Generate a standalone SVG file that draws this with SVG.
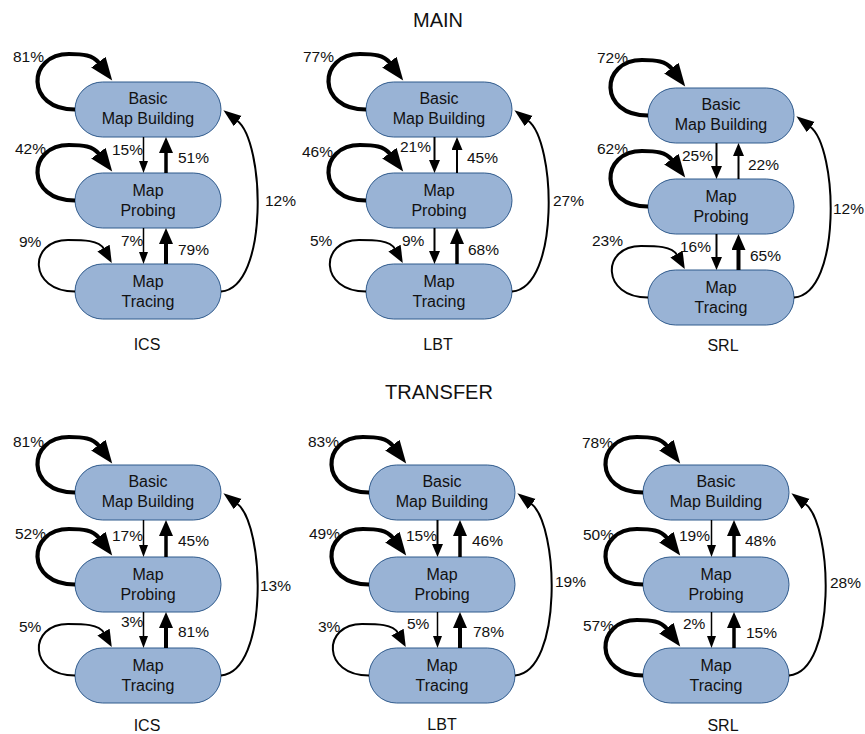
<svg xmlns="http://www.w3.org/2000/svg" width="865" height="734" viewBox="0 0 865 734">
<defs>
<style>
text{font-family:"Liberation Sans",Arial,sans-serif;fill:#111}
.nt{font-size:16px;text-anchor:middle}
.p{font-size:15.5px}
.cap{font-size:16px;text-anchor:middle}
.ttl{font-size:20px;text-anchor:middle}
.n rect{fill:#99B3D5;stroke:#2F5A8C;stroke-width:1}
.e path,.e line{fill:none;stroke:#000}
.lk{stroke-width:4.2;marker-end:url(#hl)}
.ln{stroke-width:2;marker-end:url(#hl2)}
.c{stroke-width:2;marker-end:url(#hc)}
.v1{stroke-width:1.5;marker-end:url(#hv1)}
.v3{stroke-width:2;marker-end:url(#hv3)}
.v2{stroke-width:3.5;marker-end:url(#hv2)}
.v4{stroke-width:4;marker-end:url(#hv2)}
</style>
<marker id="hl" markerUnits="userSpaceOnUse" orient="auto" refX="1" refY="9" markerWidth="24" markerHeight="19"><path d="M0,0 L23,9 L0,18 Z" fill="#000"/></marker>
<marker id="hl2" markerUnits="userSpaceOnUse" orient="auto" refX="1" refY="7" markerWidth="18" markerHeight="15"><path d="M0,0 L17,7 L0,14 Z" fill="#000"/></marker>
<marker id="hc" markerUnits="userSpaceOnUse" orient="auto" refX="1" refY="6.5" markerWidth="19" markerHeight="14"><path d="M0,0 L18,6.5 L0,13 Z" fill="#000"/></marker>
<marker id="hv1" markerUnits="userSpaceOnUse" orient="auto" refX="1" refY="4.5" markerWidth="13" markerHeight="10"><path d="M0,0 L12,4.5 L0,9 Z" fill="#000"/></marker>
<marker id="hv3" markerUnits="userSpaceOnUse" orient="auto" refX="1" refY="5.5" markerWidth="14" markerHeight="12"><path d="M0,0 L13,5.5 L0,11 Z" fill="#000"/></marker>
<marker id="hv2" markerUnits="userSpaceOnUse" orient="auto" refX="1" refY="7" markerWidth="17" markerHeight="15"><path d="M0,0 L16,7 L0,14 Z" fill="#000"/></marker>
</defs>
<rect x="0" y="0" width="865" height="734" fill="#fff"/>

<text class="ttl" x="438" y="27">MAIN</text>
<text class="ttl" x="439" y="399">TRANSFER</text>

<!-- Panel 1: MAIN ICS -->
<g id="main-ics-bmb" class="n"><rect x="75" y="82" width="146" height="55" rx="27.5"/><text class="nt" x="148" y="104.3">Basic</text><text class="nt" x="148" y="124.3">Map Building</text></g>
<g id="main-ics-mp" class="n"><rect x="75" y="173" width="146" height="55" rx="27.5"/><text class="nt" x="148" y="195.5">Map</text><text class="nt" x="148" y="215.5">Probing</text></g>
<g id="main-ics-mt" class="n"><rect x="75" y="264" width="146" height="55" rx="27.5"/><text class="nt" x="148" y="286.5">Map</text><text class="nt" x="148" y="306.5">Tracing</text></g>
<g id="main-ics-edges" class="e">
<path class="lk" transform="translate(75,82)" d="M0,27.5 C-50,27.5 -48,-28 -6,-28 C8,-28 18,-27 24,-19"/>
<path class="lk" transform="translate(75,173)" d="M0,27.5 C-50,27.5 -48,-28 -6,-28 C8,-28 18,-27 24,-19"/>
<path class="ln" transform="translate(75,264)" d="M0,27.5 C-47,27.5 -47,-24 -7,-24 C8,-24 24,-24 29,-15"/>
<line class="v1" x1="143.5" y1="137" x2="143.5" y2="162"/>
<line class="v2" x1="166" y1="173" x2="166" y2="152"/>
<line class="v1" x1="143.5" y1="228" x2="143.5" y2="253"/>
<line class="v4" x1="166" y1="264" x2="166" y2="243"/>
<path class="c" transform="translate(221,109.5)" d="M0,182 C48,178 44,32 16,11"/>
</g>
<g id="main-ics-labels">
<text class="p" x="13" y="62.4">81%</text>
<text class="p" x="15" y="153.7">42%</text>
<text class="p" x="112" y="154.7">15%</text>
<text class="p" x="178" y="162.7">51%</text>
<text class="p" x="19" y="247.4">9%</text>
<text class="p" x="121" y="245.7">7%</text>
<text class="p" x="178" y="254.7">79%</text>
<text class="p" x="265" y="206.4">12%</text>
<text class="cap" x="147" y="350">ICS</text>
</g>

<!-- Panel 2: MAIN LBT -->
<g id="main-lbt-bmb" class="n"><rect x="366" y="82" width="146" height="55" rx="27.5"/><text class="nt" x="439" y="104.3">Basic</text><text class="nt" x="439" y="124.3">Map Building</text></g>
<g id="main-lbt-mp" class="n"><rect x="366" y="173" width="146" height="55" rx="27.5"/><text class="nt" x="439" y="195.5">Map</text><text class="nt" x="439" y="215.5">Probing</text></g>
<g id="main-lbt-mt" class="n"><rect x="366" y="264" width="146" height="55" rx="27.5"/><text class="nt" x="439" y="286.5">Map</text><text class="nt" x="439" y="306.5">Tracing</text></g>
<g id="main-lbt-edges" class="e">
<path class="lk" transform="translate(366,82)" d="M0,27.5 C-50,27.5 -48,-28 -6,-28 C8,-28 18,-27 24,-19"/>
<path class="lk" transform="translate(366,173)" d="M0,27.5 C-50,27.5 -48,-28 -6,-28 C8,-28 18,-27 24,-19"/>
<path class="ln" transform="translate(366,264)" d="M0,27.5 C-47,27.5 -47,-24 -7,-24 C8,-24 24,-24 29,-15"/>
<line class="v3" x1="434.5" y1="137" x2="434.5" y2="161"/>
<line class="v3" x1="457" y1="173" x2="457" y2="149"/>
<line class="v3" x1="434.5" y1="228" x2="434.5" y2="252"/>
<line class="v2" x1="457" y1="264" x2="457" y2="243"/>
<path class="c" transform="translate(512,109.5)" d="M0,182 C48,178 44,32 16,11"/>
</g>
<g id="main-lbt-labels">
<text class="p" x="303" y="62.4">77%</text>
<text class="p" x="302" y="157.4">46%</text>
<text class="p" x="400" y="152.4">21%</text>
<text class="p" x="467" y="162.7">45%</text>
<text class="p" x="310" y="245.7">5%</text>
<text class="p" x="402" y="245.7">9%</text>
<text class="p" x="468" y="254.7">68%</text>
<text class="p" x="553" y="205.7">27%</text>
<text class="cap" x="438" y="350">LBT</text>
</g>

<!-- Panel 3: MAIN SRL -->
<g id="main-srl-bmb" class="n"><rect x="648" y="88" width="146" height="55" rx="27.5"/><text class="nt" x="721" y="110.3">Basic</text><text class="nt" x="721" y="130.3">Map Building</text></g>
<g id="main-srl-mp" class="n"><rect x="648" y="179" width="146" height="55" rx="27.5"/><text class="nt" x="721" y="201.5">Map</text><text class="nt" x="721" y="221.5">Probing</text></g>
<g id="main-srl-mt" class="n"><rect x="648" y="270" width="146" height="55" rx="27.5"/><text class="nt" x="721" y="292.5">Map</text><text class="nt" x="721" y="312.5">Tracing</text></g>
<g id="main-srl-edges" class="e">
<path class="lk" transform="translate(648,88)" d="M0,27.5 C-50,27.5 -48,-28 -6,-28 C8,-28 18,-27 24,-19"/>
<path class="lk" transform="translate(648,179)" d="M0,27.5 C-50,27.5 -48,-28 -6,-28 C8,-28 18,-27 24,-19"/>
<path class="ln" transform="translate(648,270)" d="M0,27.5 C-47,27.5 -47,-24 -7,-24 C8,-24 24,-24 29,-15"/>
<line class="v3" x1="716.5" y1="143" x2="716.5" y2="167"/>
<line class="v3" x1="738.5" y1="179" x2="738.5" y2="155"/>
<line class="v3" x1="716.5" y1="234" x2="716.5" y2="258"/>
<line class="v4" x1="738.5" y1="270" x2="738.5" y2="249"/>
<path class="c" transform="translate(794,115.5)" d="M0,182 C48,178 44,32 16,11"/>
</g>
<g id="main-srl-labels">
<text class="p" x="597" y="63">72%</text>
<text class="p" x="597" y="154">62%</text>
<text class="p" x="682" y="160.7">25%</text>
<text class="p" x="748" y="169.7">22%</text>
<text class="p" x="592" y="245.7">23%</text>
<text class="p" x="680" y="251.7">16%</text>
<text class="p" x="750" y="260.7">65%</text>
<text class="p" x="833" y="214">12%</text>
<text class="cap" x="723" y="351">SRL</text>
</g>

<!-- Panel 4: TRANSFER ICS -->
<g id="transfer-ics-bmb" class="n"><rect x="75" y="465" width="146" height="55" rx="27.5"/><text class="nt" x="148" y="487.3">Basic</text><text class="nt" x="148" y="507.3">Map Building</text></g>
<g id="transfer-ics-mp" class="n"><rect x="75" y="557" width="146" height="55" rx="27.5"/><text class="nt" x="148" y="579.5">Map</text><text class="nt" x="148" y="599.5">Probing</text></g>
<g id="transfer-ics-mt" class="n"><rect x="75" y="648" width="146" height="55" rx="27.5"/><text class="nt" x="148" y="670.5">Map</text><text class="nt" x="148" y="690.5">Tracing</text></g>
<g id="transfer-ics-edges" class="e">
<path class="lk" transform="translate(75,465)" d="M0,27.5 C-50,27.5 -48,-28 -6,-28 C8,-28 18,-27 24,-19"/>
<path class="lk" transform="translate(75,557)" d="M0,27.5 C-50,27.5 -48,-28 -6,-28 C8,-28 18,-27 24,-19"/>
<path class="ln" transform="translate(75,648)" d="M0,27.5 C-47,27.5 -47,-24 -7,-24 C8,-24 24,-24 29,-15"/>
<line class="v1" x1="143.5" y1="520" x2="143.5" y2="546"/>
<line class="v2" x1="166" y1="557" x2="166" y2="535"/>
<line class="v1" x1="143.5" y1="612" x2="143.5" y2="637"/>
<line class="v4" x1="166" y1="648" x2="166" y2="627"/>
<path class="c" transform="translate(221,492.5)" d="M0,183 C48,179 44,32 16,11"/>
</g>
<g id="transfer-ics-labels">
<text class="p" x="13" y="447.4">81%</text>
<text class="p" x="15" y="539">52%</text>
<text class="p" x="112" y="540.7">17%</text>
<text class="p" x="178" y="545.7">45%</text>
<text class="p" x="19" y="632.4">5%</text>
<text class="p" x="121" y="627.4">3%</text>
<text class="p" x="178" y="637.4">81%</text>
<text class="p" x="260" y="590.7">13%</text>
<text class="cap" x="147" y="731">ICS</text>
</g>

<!-- Panel 5: TRANSFER LBT -->
<g id="transfer-lbt-bmb" class="n"><rect x="369" y="465" width="146" height="55" rx="27.5"/><text class="nt" x="442" y="487.3">Basic</text><text class="nt" x="442" y="507.3">Map Building</text></g>
<g id="transfer-lbt-mp" class="n"><rect x="369" y="557" width="146" height="55" rx="27.5"/><text class="nt" x="442" y="579.5">Map</text><text class="nt" x="442" y="599.5">Probing</text></g>
<g id="transfer-lbt-mt" class="n"><rect x="369" y="648" width="146" height="55" rx="27.5"/><text class="nt" x="442" y="670.5">Map</text><text class="nt" x="442" y="690.5">Tracing</text></g>
<g id="transfer-lbt-edges" class="e">
<path class="lk" transform="translate(369,465)" d="M0,27.5 C-50,27.5 -48,-28 -6,-28 C8,-28 18,-27 24,-19"/>
<path class="lk" transform="translate(369,557)" d="M0,27.5 C-50,27.5 -48,-28 -6,-28 C8,-28 18,-27 24,-19"/>
<path class="ln" transform="translate(369,648)" d="M0,27.5 C-47,27.5 -47,-24 -7,-24 C8,-24 24,-24 29,-15"/>
<line class="v3" x1="437.5" y1="520" x2="437.5" y2="545"/>
<line class="v2" x1="460" y1="557" x2="460" y2="535"/>
<line class="v1" x1="437.5" y1="612" x2="437.5" y2="637"/>
<line class="v4" x1="460" y1="648" x2="460" y2="627"/>
<path class="c" transform="translate(515,492.5)" d="M0,183 C48,179 44,32 16,11"/>
</g>
<g id="transfer-lbt-labels">
<text class="p" x="308" y="447.4">83%</text>
<text class="p" x="309" y="538.7">49%</text>
<text class="p" x="406" y="540.7">15%</text>
<text class="p" x="472" y="545.7">46%</text>
<text class="p" x="318" y="632.4">3%</text>
<text class="p" x="407" y="629">5%</text>
<text class="p" x="473" y="637.4">78%</text>
<text class="p" x="555" y="587.4">19%</text>
<text class="cap" x="442" y="730">LBT</text>
</g>

<!-- Panel 6: TRANSFER SRL -->
<g id="transfer-srl-bmb" class="n"><rect x="643" y="465" width="146" height="55" rx="27.5"/><text class="nt" x="716" y="487.3">Basic</text><text class="nt" x="716" y="507.3">Map Building</text></g>
<g id="transfer-srl-mp" class="n"><rect x="643" y="557" width="146" height="55" rx="27.5"/><text class="nt" x="716" y="579.5">Map</text><text class="nt" x="716" y="599.5">Probing</text></g>
<g id="transfer-srl-mt" class="n"><rect x="643" y="648" width="146" height="55" rx="27.5"/><text class="nt" x="716" y="670.5">Map</text><text class="nt" x="716" y="690.5">Tracing</text></g>
<g id="transfer-srl-edges" class="e">
<path class="lk" transform="translate(643,465)" d="M0,27.5 C-50,27.5 -48,-28 -6,-28 C8,-28 18,-27 24,-19"/>
<path class="lk" transform="translate(643,557)" d="M0,27.5 C-50,27.5 -48,-28 -6,-28 C8,-28 18,-27 24,-19"/>
<path class="lk" transform="translate(643,648)" d="M0,27.5 C-50,27.5 -48,-28 -6,-28 C8,-28 18,-27 24,-19"/>
<line class="v1" x1="711.5" y1="520" x2="711.5" y2="546"/>
<line class="v2" x1="734" y1="557" x2="734" y2="535"/>
<line class="v1" x1="711.5" y1="612" x2="711.5" y2="637"/>
<line class="v2" x1="734" y1="648" x2="734" y2="627"/>
<path class="c" transform="translate(789,492.5)" d="M0,183 C48,179 44,32 16,11"/>
</g>
<g id="transfer-srl-labels">
<text class="p" x="582" y="448.4">78%</text>
<text class="p" x="583" y="539.7">50%</text>
<text class="p" x="679" y="540.7">19%</text>
<text class="p" x="745" y="546.4">48%</text>
<text class="p" x="583" y="630.7">57%</text>
<text class="p" x="683" y="629">2%</text>
<text class="p" x="746" y="638.4">15%</text>
<text class="p" x="830" y="588.4">28%</text>
<text class="cap" x="723" y="731">SRL</text>
</g>
</svg>
